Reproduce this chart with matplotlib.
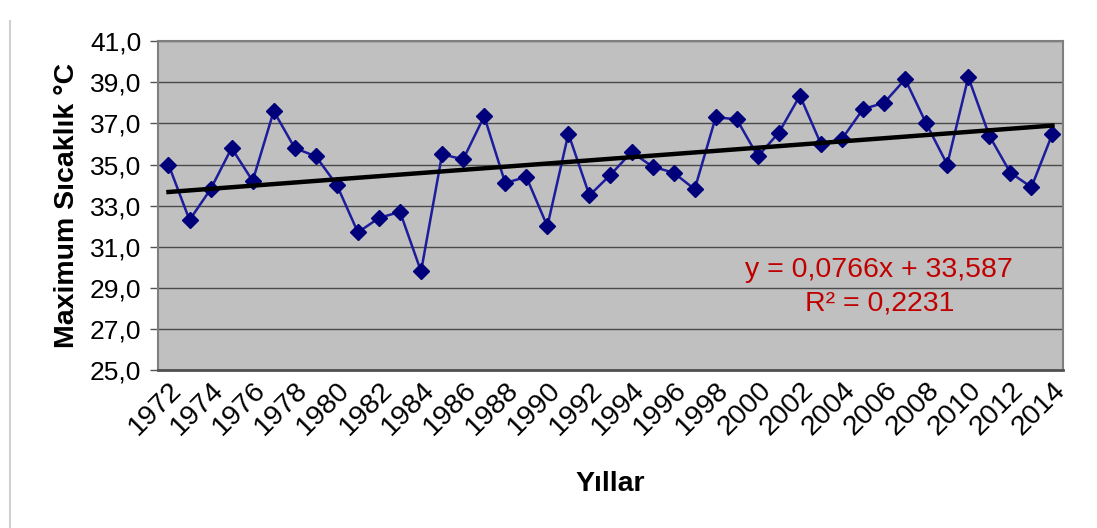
import matplotlib
matplotlib.use('Agg')
import matplotlib.pyplot as plt
import numpy as np

plt.rcParams['font.family'] = ['Liberation Sans', 'DejaVu Sans']

# === 数据 ===
years = list(range(1972, 2015))
temps = [35.0, 32.3, 33.8, 35.8, 34.2, 37.6, 35.8, 35.4, 34.0, 31.7,
         32.4, 32.7, 29.8, 35.5, 35.25, 37.35, 34.1, 34.4, 32.0, 36.5,
         33.5, 34.5, 35.6, 34.9, 34.6, 33.8, 37.3, 37.2, 35.4, 36.55,
         38.35, 36.0, 36.25, 37.7, 38.0, 39.15, 37.0, 35.0, 39.25, 36.4,
         34.6, 33.9, 36.5]
y_ticks = [25, 27, 29, 31, 33, 35, 37, 39, 41]

# === 画布 ===
fig = plt.figure(figsize=(10.97, 5.28), dpi=100)
fig.patch.set_facecolor('white')
ax = fig.add_axes([0.144, 0.299, 0.825, 0.623])
ax.set_facecolor('#C0C0C0')

idx = np.arange(len(years))
ax.plot(idx, temps, color='#1C1C9C', linewidth=1.8, marker='D',
        markersize=8, markerfacecolor='#00007A', markeredgecolor='#00007A',
        zorder=3)

# 线性趋势线
coef = np.polyfit(idx + 1, temps, 1)
trend = np.polyval(coef, idx + 1)
ax.plot(idx, trend, color='black', linewidth=3.2, zorder=4)

ax.text(0.797, 0.305, 'y = 0,0766x + 33,587', transform=ax.transAxes,
        fontsize=20.5, color='#C00000', ha='center', va='center')
ax.text(0.797, 0.203, 'R² = 0,2231', transform=ax.transAxes,
        fontsize=20.5, color='#C00000', ha='center', va='center')

# === 坐标轴 ===
ax.set_xlim(-0.5, len(years) - 0.5)
ax.set_ylim(25, 41)
ax.set_yticks(y_ticks)
ax.set_yticklabels([f'{v:.1f}'.replace('.', ',') for v in y_ticks], fontsize=19)
ax.yaxis.grid(True, color='#4A4A4A', linewidth=1)
ax.set_axisbelow(True)

ax.set_xticks(idx[::2])
ax.set_xticklabels([str(y) for y in years[::2]], rotation=45, ha='right',
                   rotation_mode='anchor', fontsize=20.5)
ax.tick_params(axis='x', length=0, pad=5)
ax.tick_params(axis='y', length=6, width=1, color='#555555', direction='out', pad=6)

for side in ['top', 'right', 'left']:
    ax.spines[side].set_color('#7F7F7F')
    ax.spines[side].set_linewidth(1.5)
ax.spines['bottom'].set_color('#505050')
ax.spines['bottom'].set_linewidth(2)

ax.set_ylabel('Maximum Sıcaklık °C', fontsize=20.5, fontweight='bold', labelpad=7)
ax.set_xlabel('Yıllar', fontsize=20.5, fontweight='bold', labelpad=22)

# 左侧边框线
fig.add_artist(plt.Line2D([0.009, 0.009], [0.0, 0.96], color='#D0D0D0',
                          linewidth=1.5, transform=fig.transFigure))

fig.savefig('out.png', dpi=100, facecolor='white')
plt.close()
